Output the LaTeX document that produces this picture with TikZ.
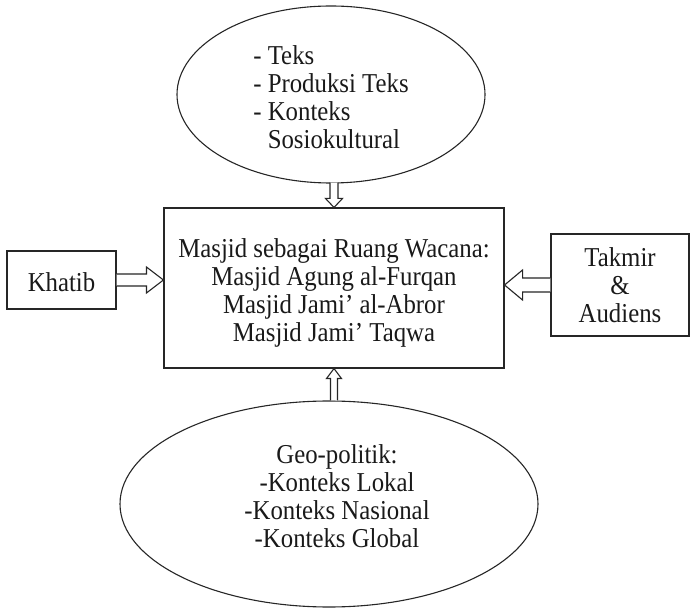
\documentclass[tikz,border=0pt]{standalone}
\usepackage{fontspec}
\usepackage{graphicx}
\setmainfont{Liberation Serif}
\usetikzlibrary{calc,shapes.geometric}
\newcommand\tall[1]{\scalebox{1}[1.1]{#1}}
\begin{document}
\begin{tikzpicture}[x=1pt,y=-1pt,
  line/.style={draw=black!85, line width=1.1pt},
  boxnode/.style={line, rectangle, inner sep=0pt},
  ell/.style={line, ellipse, inner sep=0pt},
  txt/.style={font=\fontsize{24.8}{28}\selectfont, text=black!90, inner sep=0pt, align=center},
  blockarrow/.style={line, fill=white, line join=miter}
]
\useasboundingbox (0,0) rectangle (691,609);

% shapes
\node[ell, minimum width=308, minimum height=177] (top) at (331,94.5) {};
\node[ell, minimum width=418, minimum height=206] (bot) at (329,504) {};
\node[boxnode, minimum width=340, minimum height=160] (main) at (334,288) {};
\node[boxnode, minimum width=109, minimum height=58] (khatib) at (61.5,280) {};
\node[boxnode, minimum width=138, minimum height=102] (takmir) at (620,285) {};

% texts
\node[txt, align=left] (toptxt) at (331,97) {\tall{- Teks}\\\tall{- Produksi Teks}\\\tall{- Konteks}\\\phantom{- }\tall{Sosiokultural}};
\node[txt] (maintxt) at (334,292.5) {\tall{Masjid sebagai Ruang Wacana:}\\\tall{Masjid Agung al-Furqan}\\\tall{Masjid Jami’ al-Abror}\\\tall{Masjid Jami’ Taqwa}};
\node[txt] (khatibtxt) at (61.5,282) {\tall{Khatib}};
\node[txt] (takmirtxt) at (620,285.5) {\tall{Takmir}\\\tall{\&}\\\tall{Audiens}};
\node[txt] (bottxt) at (337,496.5) {\tall{Geo-politik:}\\\tall{-Konteks Lokal}\\\tall{-Konteks Nasional}\\\tall{-Konteks Global}};

% connectors (hollow block arrows)
\coordinate (ks) at (khatib.east);
\coordinate (kt) at (main.west |- khatib.east);
\draw[blockarrow] ($(ks)+(0,-6)$) -- ($(kt)+(-17,-6)$) -- ($(kt)+(-17,-13)$) -- (kt)
  -- ($(kt)+(-17,13)$) -- ($(kt)+(-17,6)$) -- ($(ks)+(0,6)$);

\coordinate (ts) at (takmir.west);
\coordinate (tt) at (main.east |- takmir.west);
\draw[blockarrow] ($(ts)+(0,-7)$) -- ($(tt)+(18,-7)$) -- ($(tt)+(18,-15)$) -- (tt)
  -- ($(tt)+(18,15)$) -- ($(tt)+(18,7)$) -- ($(ts)+(0,7)$);

\coordinate (us) at (main.north |- top.south);
\coordinate (ut) at (main.north);
\draw[blockarrow] ($(us)+(-4,-1)$) -- ($(ut)+(-4,-9)$) -- ($(ut)+(-8.5,-9)$) -- (ut)
  -- ($(ut)+(8.5,-9)$) -- ($(ut)+(4,-9)$) -- ($(us)+(4,-1)$);

\coordinate (bs) at (main.south |- bot.north);
\coordinate (bt) at (main.south);
\draw[blockarrow] ($(bs)+(-3.5,0)$) -- ($(bt)+(-3.5,10)$) -- ($(bt)+(-7.5,10)$) -- (bt)
  -- ($(bt)+(7.5,10)$) -- ($(bt)+(3.5,10)$) -- ($(bs)+(3.5,0)$);
\end{tikzpicture}
\end{document}
